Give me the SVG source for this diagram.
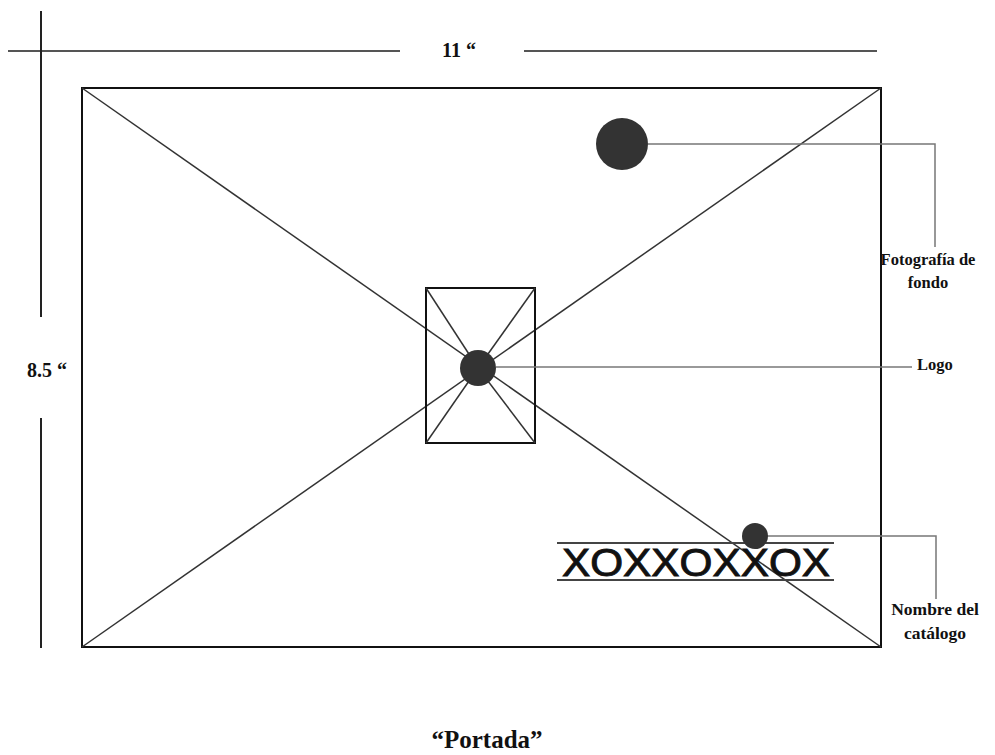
<svg xmlns="http://www.w3.org/2000/svg" width="995" height="755" viewBox="0 0 995 755">
<style>
.dim{stroke:#555;stroke-width:2;fill:none}
.dimv{stroke:#222;stroke-width:2;fill:none}
.frame{stroke:#111;stroke-width:2;fill:none}
.thin{stroke:#333;stroke-width:1.5;fill:none}
.lead{stroke:#777;stroke-width:1.5;fill:none}
.rule{stroke:#444;stroke-width:2;fill:none}
.dot{fill:#333}
.lbl{font-family:"Liberation Serif",serif;font-weight:bold;font-size:16.5px;fill:#111;text-anchor:middle}
</style>
<rect width="995" height="755" fill="#fff"/>
<g id="dimensions">
<line class="dim" x1="8" y1="51" x2="400" y2="51"/>
<line class="dim" x1="524" y1="51" x2="877" y2="51"/>
<line class="dimv" x1="41" y1="11" x2="41" y2="317"/>
<line class="dimv" x1="41" y1="418" x2="41" y2="648"/>
<text class="lbl" x="459" y="57" style="font-size:20px">11 “</text>
<text class="lbl" x="47" y="377" style="font-size:20px">8.5 “</text>
</g>
<g id="page">
<rect class="frame" x="82" y="88" width="799" height="559"/>
<line class="thin" x1="82" y1="88" x2="881" y2="647"/>
<line class="thin" x1="881" y1="88" x2="82" y2="647"/>
</g>
<g id="logo-box">
<rect class="frame" x="426" y="288" width="109" height="155"/>
<line class="thin" x1="426" y1="288" x2="478" y2="368"/>
<line class="thin" x1="535" y1="288" x2="478" y2="368"/>
<line class="thin" x1="426" y1="443" x2="478" y2="368"/>
<line class="thin" x1="535" y1="443" x2="478" y2="368"/>
</g>
<g id="title-text">
<line class="rule" x1="557" y1="543" x2="834" y2="543"/>
<line class="rule" x1="557" y1="580" x2="834" y2="580"/>
<text x="562" y="576" font-family="Liberation Sans,Arial,sans-serif" font-size="38" fill="#111" stroke="#111" stroke-width="0.9" textLength="268" lengthAdjust="spacingAndGlyphs">XOXXOXXOX</text>
</g>
<g id="connectors">
<polyline class="lead" points="648,144 935,144 935,247"/>
<line class="lead" x1="496" y1="367" x2="912" y2="367"/>
<polyline class="lead" points="767,536 936,536 936,599"/>
</g>
<g id="photo-marker"><circle class="dot" cx="622" cy="144" r="26"/></g>
<g id="logo-marker"><circle class="dot" cx="478" cy="368" r="18"/></g>
<g id="name-marker"><circle class="dot" cx="755" cy="536" r="13"/></g>
<g id="label-photo">
<text class="lbl" x="928" y="265">Fotografía de</text>
<text class="lbl" x="928" y="288">fondo</text>
</g>
<g id="label-logo"><text class="lbl" x="935" y="370">Logo</text></g>
<g id="label-name">
<text class="lbl" x="935" y="615" style="font-size:17.5px">Nombre del</text>
<text class="lbl" x="935" y="639" style="font-size:17.5px">catálogo</text>
</g>
<g id="caption"><text class="lbl" x="487" y="748" style="font-size:25px">“Portada”</text></g>
</svg>
